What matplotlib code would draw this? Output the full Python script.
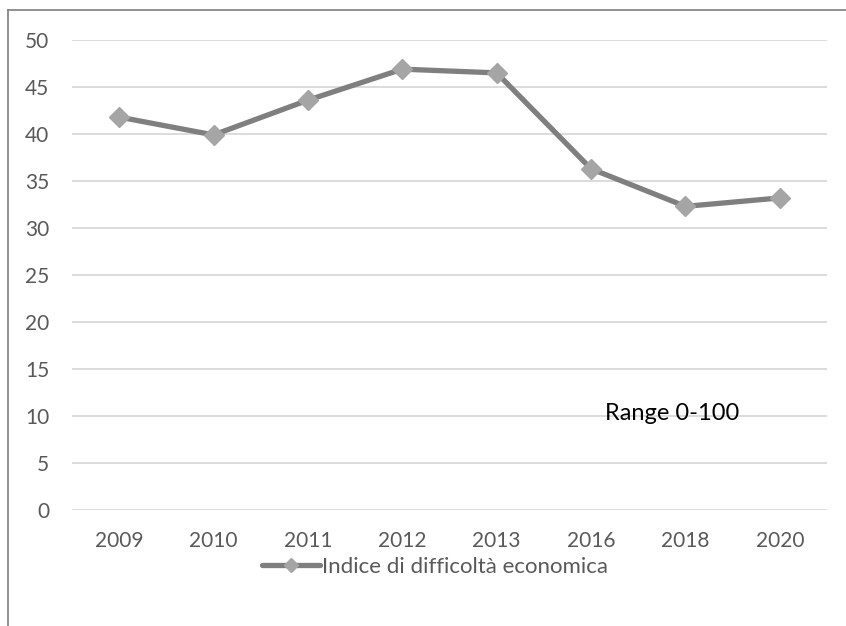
import matplotlib.pyplot as plt
from matplotlib.lines import Line2D

# Data
years = ['2009', '2010', '2011', '2012', '2013', '2016', '2018', '2020']
indice = [41.8, 39.9, 43.6, 46.9, 46.5, 36.3, 32.3, 33.2]
serie_label = 'Indice di difficoltà economica'

plt.rcParams['font.family'] = ['Lato', 'DejaVu Sans']

fig = plt.figure(figsize=(8.46, 6.26), dpi=100)
ax = fig.add_axes([72 / 846, 1 - 510 / 626, 755 / 846, 470 / 626])

x = range(len(years))
ax.plot(x, indice, color='#7f7f7f', linewidth=3.8, marker='D', markersize=10,
        markerfacecolor='#a5a5a5', markeredgecolor='#a5a5a5', label=serie_label,
        solid_capstyle='round', zorder=3)

ax.set_xlim(-0.5, len(years) - 0.5)
ax.set_ylim(0, 50)
ax.set_yticks(range(0, 51, 5))
ax.set_xticks(list(x))
ax.set_xticklabels(years)
ax.yaxis.grid(True, color='#d9d9d9', linewidth=1.3)
ax.set_axisbelow(True)
for s in ax.spines.values():
    s.set_visible(False)
ax.tick_params(axis='both', length=0, labelsize=15, labelcolor='#595959')
ax.tick_params(axis='y', pad=16.5)
ax.tick_params(axis='x', pad=15)

ax.text(5.86, 10.3, 'Range 0-100', fontsize=17, color='black',
        ha='center', va='center')

fig.legend(loc='center', bbox_to_anchor=(435 / 846, 1 - 567 / 626), frameon=False,
           fontsize=16, labelcolor='#595959', handlelength=2.6, handletextpad=0.1,
           markerscale=0.75)

# outer frame (left and top edges)
fig.add_artist(Line2D([8 / 846, 8 / 846], [0, 1 - 10 / 626], color='#878787', linewidth=1.3))
fig.add_artist(Line2D([8 / 846, 1], [1 - 10 / 626, 1 - 10 / 626], color='#878787', linewidth=1.3))

fig.savefig('out.png', dpi=100)
